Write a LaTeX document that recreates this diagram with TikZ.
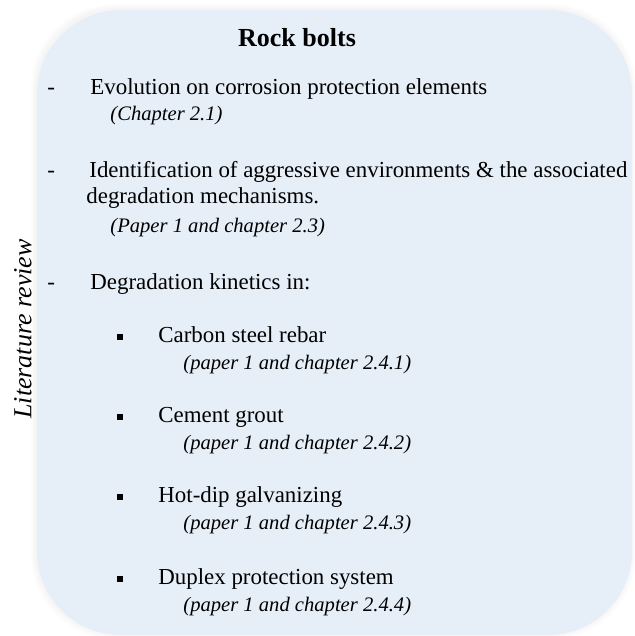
\documentclass[tikz,border=0pt]{standalone}
\usepackage{fontspec}
\setmainfont{Liberation Serif}
\usetikzlibrary{positioning}

\begin{document}
\begin{tikzpicture}[
	x=0.5pt,
	y=-0.5pt,
	eintrag/.style={
		anchor=base west,
		inner sep=0pt,
		font=\fontsize{11.45}{14}\selectfont
	},
	verweis/.style={
		eintrag,
		font=\fontsize{10.3}{13}\selectfont\itshape
	},
	marke/.style={
		fill=black,
		minimum size=3pt,
		inner sep=0pt
	},
	kasten/.style={
		fill={rgb,255:red,230;green,238;blue,247},
		rounded corners=42pt
	}
]
\useasboundingbox (0,0) rectangle (634,636);

% weicher Rand um den Kasten
\foreach \g in {1,...,5}
	\fill[black, opacity=0.006, rounded corners=42pt]
		(37-\g-1,10-\g-1) rectangle (632+\g-1,635+\g-1);
\fill[kasten] (37,10) rectangle (632,635);

\node[anchor=base, inner sep=0pt, font=\fontsize{13}{15}\selectfont\bfseries]
	(TITEL) at (297,47) {Rock bolts};

\node[eintrag] (D1) at (47,95) {-};
\node[eintrag] (EVO) at (90,95) {Evolution on corrosion protection elements};
\node[verweis] (CH21) at (110,121) {(Chapter 2.1)};

\node[eintrag] (D2) at (47,177) {-};
\node[eintrag] (IDENT) at (89,177) {Identification of aggressive environments \& the associated};
\node[eintrag] (IDENTB) at (86,204) {degradation mechanisms.};
\node[verweis] (CH23) at (110,233) {(Paper 1 and chapter 2.3)};

\node[eintrag] (D3) at (47,289) {-};
\node[eintrag] (KIN) at (90,289) {Degradation kinetics in:};

\node[marke] (B1) at (120,337) {};
\node[eintrag] (CS) at (158,342) {Carbon steel rebar};
\node[verweis] (CH241) at (183,369) {(paper 1 and chapter 2.4.1)};

\node[marke] (B2) at (120,417) {};
\node[eintrag] (CG) at (158,422) {Cement grout};
\node[verweis] (CH242) at (183,449) {(paper 1 and chapter 2.4.2)};

\node[marke] (B3) at (120,497) {};
\node[eintrag] (HDG) at (158,502) {Hot-dip galvanizing};
\node[verweis] (CH243) at (183,529) {(paper 1 and chapter 2.4.3)};

\node[marke] (B4) at (120,579) {};
\node[eintrag] (DUP) at (158,584) {Duplex protection system};
\node[verweis] (CH244) at (183,611) {(paper 1 and chapter 2.4.4)};

\node[rotate=90, inner sep=0pt, font=\fontsize{13}{15}\selectfont\itshape]
	(LIT) at (23,329) {Literature review};

\end{tikzpicture}
\end{document}
